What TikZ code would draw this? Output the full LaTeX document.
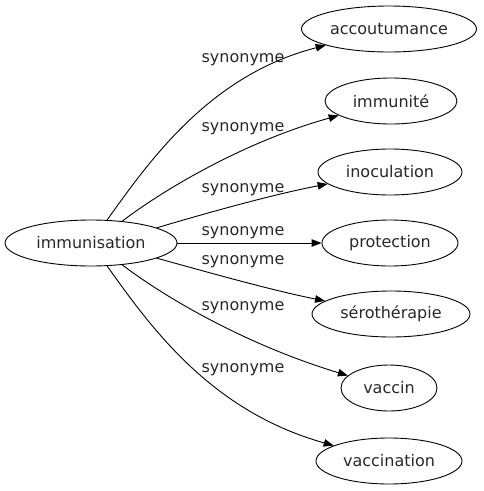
\documentclass[tikz,border=0pt]{standalone}
\usepackage{fontspec}
\setmainfont{DejaVu Sans}
\usepackage{tikz}
\usetikzlibrary{shapes.geometric, arrows.meta, positioning}
\definecolor{mydark}{RGB}{0,0,0}
\definecolor{mytext}{RGB}{40,40,40}
\tikzset{
  term/.style={ellipse, draw=mydark, line width=0.9pt, text=mytext,
    minimum height=46pt, inner sep=0pt, font=\fontsize{16}{19}\selectfont},
  rel/.style={text=mytext, font=\fontsize{16}{19}\selectfont},
  arrow/.style={-{Triangle[length=10pt,width=7.5pt]}, line width=0.9pt, color=mydark}
}
\begin{document}
\begin{tikzpicture}[x=1pt, y=-1pt]
  \useasboundingbox (0,0) rectangle (483,491);
  \node[term, minimum width=172pt] (imm) at (91,243) {immunisation};
  \node[term, minimum width=175pt] (acc) at (389,29) {accoutumance};
  \node[term, minimum width=132pt] (imu) at (391,101) {immunité};
  \node[term, minimum width=144pt] (ino) at (390,172) {inoculation};
  \node[term, minimum width=136pt] (pro) at (390,243) {protection};
  \node[term, minimum width=158pt] (ser) at (391,314) {sérothérapie};
  \node[term, minimum width=96pt] (vcn) at (389,388) {vaccin};
  \node[term, minimum width=146pt] (vcc) at (389,461) {vaccination};
  % edges
  \draw[arrow] (imm.55) .. controls (150,160) and (210,75) .. (acc);
  \draw[arrow] (imm.35) .. controls (170,185) and (250,140) .. (imu);
  \draw[arrow] (imm.13) .. controls (200,215) and (270,195) .. (ino);
  \draw[arrow] (imm.east) -- (pro.west);
  \draw[arrow] (imm.-13) .. controls (200,270) and (270,290) .. (ser);
  \draw[arrow] (imm.-35) .. controls (170,301) and (250,346) .. (vcn);
  \draw[arrow] (imm.-55) .. controls (150,326) and (210,411) .. (vcc);
  % labels
  \node[rel] (l1) at (243,60) {synonyme};
  \node[rel] (l2) at (243,129) {synonyme};
  \node[rel] (l3) at (243,190) {synonyme};
  \node[rel] (l4) at (243,233) {synonyme};
  \node[rel] (l5) at (243,262) {synonyme};
  \node[rel] (l6) at (243,308) {synonyme};
  \node[rel] (l7) at (243,370) {synonyme};
\end{tikzpicture}
\end{document}
